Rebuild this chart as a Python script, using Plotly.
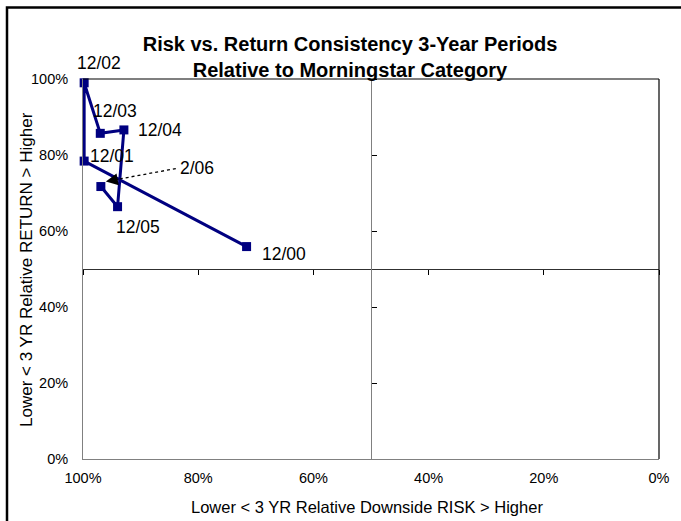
import plotly.graph_objects as go

# Rolling 3-year periods, relative rank vs. Morningstar category (percent)
periods = ["12/00", "12/01", "12/02", "12/03", "12/04", "12/05", "2/06"]
downside_risk = [71.6, 99.8, 99.8, 97.0, 92.9, 94.0, 96.9]
relative_return = [55.9, 78.4, 99.0, 85.7, 86.6, 66.4, 71.7]

tick_values = [0, 20, 40, 60, 80, 100]
tick_labels = ["0%", "20%", "40%", "60%", "80%", "100%"]

NAVY = "#000080"
FONT = "Liberation Sans, Arial, sans-serif"

W, H = 681, 521
L, R, T, B = 83, 22, 79, 62          # plot area margins in px
PW, PH = W - L - R, H - T - B


def px_to_paper_x(px):
    return (px - L) / PW


def px_to_paper_y(py):
    return (H - B - py) / PH


# pixel offsets of each period label from its marker (dx right, dy up)
label_offsets = {
    "12/00": (37, -7),
    "12/01": (28, 5),
    "12/02": (15, 20),
    "12/03": (15, 22),
    "12/04": (36, 0),
    "12/05": (20, -20),
}
arrow_label = "2/06"
arrow_label_offset = (96, 19)
LABEL_FONT = dict(family=FONT, size=17.5, color="black")

fig = go.Figure()

fig.add_trace(go.Scatter(
    x=downside_risk, y=relative_return,
    mode="lines+markers",
    line=dict(color=NAVY, width=3),
    marker=dict(symbol="square", size=9, color=NAVY),
    cliponaxis=False, hoverinfo="skip", showlegend=False,
))

# empty trace so the crossing axes at the 50% lines get drawn
fig.add_trace(go.Scatter(x=[], y=[], xaxis="x2", yaxis="y2",
                         showlegend=False, hoverinfo="skip"))

annotations = []
for name, xv, yv in zip(periods, downside_risk, relative_return):
    if name in label_offsets:
        dx, dy = label_offsets[name]
        annotations.append(dict(
            x=xv, y=yv, xref="x", yref="y", text=name, showarrow=False,
            xshift=dx, yshift=dy, font=LABEL_FONT,
        ))

# 2/06 callout: label, dotted leader and arrowhead
i = periods.index(arrow_label)
ax_v, ay_v = downside_risk[i], relative_return[i]
dx, dy = arrow_label_offset
annotations.append(dict(
    x=ax_v, y=ay_v, xref="x", yref="y", text=arrow_label, showarrow=False,
    xshift=dx, yshift=dy, font=LABEL_FONT,
))
annotations.append(dict(
    x=ax_v, y=ay_v, xref="x", yref="y", text="", showarrow=True,
    xshift=5, yshift=5, ax=14, ay=-2.6, axref="pixel", ayref="pixel",
    arrowhead=2, arrowsize=2.4, arrowwidth=1, arrowcolor="black", standoff=0,
))

# axis titles
annotations.append(dict(
    text="Lower < 3 YR Relative Downside RISK > Higher",
    xref="paper", yref="paper", x=px_to_paper_x(367), y=px_to_paper_y(507),
    xanchor="center", yanchor="middle", showarrow=False,
    font=dict(family=FONT, size=16.5, color="black"),
))
annotations.append(dict(
    text="Lower < 3 YR Relative RETURN > Higher", textangle=-90,
    xref="paper", yref="paper", x=px_to_paper_x(26), y=px_to_paper_y(270),
    xanchor="center", yanchor="middle", showarrow=False,
    font=dict(family=FONT, size=17, color="black"),
))

shapes = [
    # dotted leader from the label to the arrowhead
    dict(type="line", xref="x", yref="y", xsizemode="pixel", ysizemode="pixel",
         xanchor=ax_v, yanchor=ay_v, x0=13, y0=6.5, x1=dx - 21, y1=dy - 1,
         line=dict(color="black", width=1.3, dash="dot")),
    # top and right edges of the plot area
    dict(type="line", xref="paper", yref="paper", x0=0, x1=1, y0=1, y1=1,
         line=dict(color="black", width=1.2)),
    dict(type="line", xref="paper", yref="paper", x0=1, x1=1, y0=0, y1=1,
         line=dict(color="black", width=1.2)),
    # chart frame
    dict(type="rect", xref="paper", yref="paper",
         x0=px_to_paper_x(7), x1=px_to_paper_x(700),
         y0=px_to_paper_y(540), y1=px_to_paper_y(7.5),
         line=dict(color="black", width=2.5), fillcolor="rgba(0,0,0,0)"),
]

axis_common = dict(showgrid=False, zeroline=False, automargin=False)

fig.update_layout(
    width=W, height=H,
    margin=dict(l=L, r=R, t=T, b=B, pad=0),
    paper_bgcolor="white", plot_bgcolor="white",
    font=dict(family=FONT, color="black"),
    title=dict(
        text="Risk vs. Return Consistency 3-Year Periods<br>Relative to Morningstar Category",
        x=px_to_paper_x(350), xref="paper", xanchor="center",
        y=1 - 51 / H, yref="container", yanchor="middle",
        font=dict(family=FONT, size=20, color="black", weight="bold"),
    ),
    xaxis=dict(
        range=[100, 0], tickvals=tick_values, ticktext=tick_labels,
        ticks="", showline=True, linecolor="#808080", linewidth=1,
        tickfont=dict(size=14.5), ticklabelstandoff=6,
        **axis_common,
    ),
    yaxis=dict(
        range=[0, 100], tickvals=tick_values, ticktext=tick_labels,
        ticks="", showline=True, linecolor="#808080", linewidth=1,
        tickfont=dict(size=14.5), ticklabelstandoff=11,
        **axis_common,
    ),
    xaxis2=dict(
        overlaying="x", anchor="free", position=0.5, range=[100, 0],
        tickvals=tick_values, showticklabels=False, ticks="outside",
        ticklen=5, tickcolor="black", showline=True, linecolor="#303030",
        linewidth=1, layer="below traces", **axis_common,
    ),
    yaxis2=dict(
        overlaying="y", anchor="free", position=0.5, side="right",
        range=[0, 100], tickvals=tick_values, showticklabels=False,
        ticks="outside", ticklen=5, tickcolor="black", showline=True,
        linecolor="#808080", linewidth=1, layer="below traces", **axis_common,
    ),
    annotations=annotations,
    shapes=shapes,
)

fig.write_html("out.html")
